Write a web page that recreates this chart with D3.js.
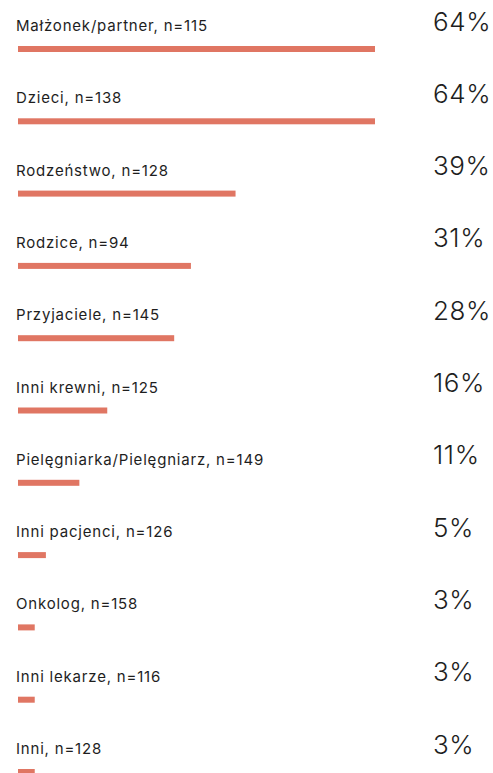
<!DOCTYPE html>
<html>
<head>
<meta charset="utf-8">
<script src="https://cdn.jsdelivr.net/npm/d3@7"></script>
<style>
  html, body { margin: 0; padding: 0; background: #ffffff; }
  svg { display: block; }
</style>
</head>
<body>
<svg id="chart" width="493" height="773"></svg>
<script>
// Categories, sample sizes and shares (percent)
const categories = [
  "Małżonek/partner", "Dzieci", "Rodzeństwo", "Rodzice", "Przyjaciele",
  "Inni krewni", "Pielęgniarka/Pielęgniarz", "Inni pacjenci", "Onkolog",
  "Inni lekarze", "Inni"
];
const sampleSizes = [115, 138, 128, 94, 145, 125, 149, 126, 158, 116, 128];
const shares = [64, 64, 39, 31, 28, 16, 11, 5, 3, 3, 3];

const svg = d3.select("#chart");

const rows = categories.map((c, i) => ({ name: c, n: sampleSizes[i], value: shares[i] }));

// Horizontal scale for bar length
const x = d3.scaleLinear().domain([0, 64]).range([18, 375]);
// Vertical position of each bar (top edge)
const y = d3.scalePoint().domain(categories).range([46, 769]);

const barH = 6;
const fontFamily = "Inter, 'Noto Sans', sans-serif";

const g = svg.selectAll("g.row").data(rows).join("g").attr("class", "row");

g.append("rect")
  .attr("x", x(0))
  .attr("y", d => y(d.name))
  .attr("width", d => x(d.value) - x(0))
  .attr("height", barH)
  .attr("fill", "#e07663");

g.append("text")
  .attr("x", 16)
  .attr("y", d => y(d.name) - 15)
  .attr("font-family", fontFamily)
  .attr("font-size", 15)
  .attr("letter-spacing", 0.8)
  .attr("fill", "#1e1e1e")
  .text(d => `${d.name}, n=${d.n}`);

g.append("text")
  .attr("x", 433)
  .attr("y", d => y(d.name) - 15.5)
  .attr("font-family", fontFamily)
  .attr("font-weight", 300)
  .attr("font-size", 26)
  .attr("letter-spacing", 0.6)
  .attr("fill", "#1e1e1e")
  .text(d => `${d.value}%`);
</script>
</body>
</html>
